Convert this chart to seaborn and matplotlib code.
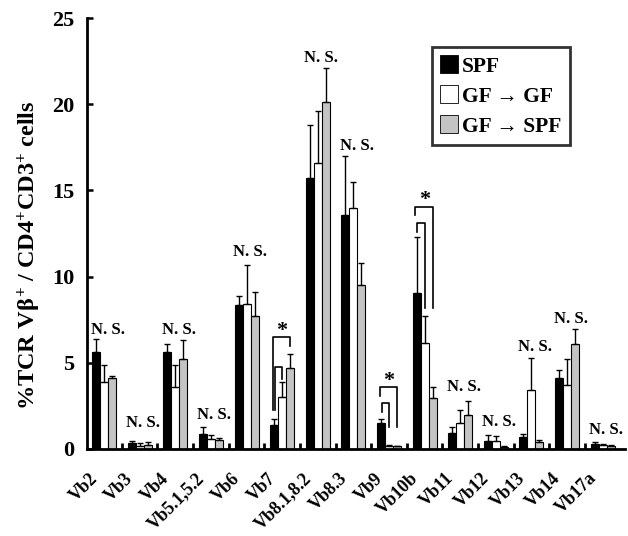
import matplotlib
matplotlib.use("Agg")
import matplotlib.pyplot as plt
import matplotlib.transforms as mtransforms
from matplotlib.patches import Patch
import seaborn as sns
import numpy as np
import pandas as pd

# %% data
categories = ['Vb2', 'Vb3', 'Vb4', 'Vb5.1,5.2', 'Vb6', 'Vb7', 'Vb8.1,8.2', 'Vb8.3',
              'Vb9', 'Vb10b', 'Vb11', 'Vb12', 'Vb13', 'Vb14', 'Vb17a']
groups = ['SPF', 'GF \u2192 GF', 'GF \u2192 SPF']

spf = [5.6, 0.35, 5.65, 0.85, 8.35, 1.4, 15.7, 13.6, 1.5, 9.05, 0.95, 0.45, 0.7, 4.1, 0.3]
spf_err = [0.8, 0.1, 0.45, 0.4, 0.5, 0.35, 3.1, 3.4, 0.25, 3.25, 0.35, 0.35, 0.15, 0.5, 0.1]
gf_gf = [3.9, 0.2, 3.6, 0.6, 8.4, 3.0, 16.6, 14.0, 0.2, 6.15, 1.5, 0.45, 3.45, 3.7, 0.25]
gf_gf_err = [1.0, 0.15, 1.3, 0.2, 2.3, 0.9, 3.0, 1.5, 0.05, 1.55, 0.75, 0.3, 1.85, 1.5, 0.05]
gf_spf = [4.1, 0.25, 5.2, 0.5, 7.7, 4.7, 20.1, 9.5, 0.15, 2.95, 2.0, 0.12, 0.4, 6.1, 0.2]
gf_spf_err = [0.15, 0.15, 1.1, 0.15, 1.4, 0.8, 2.0, 1.3, 0.05, 0.65, 0.8, 0.05, 0.1, 0.85, 0.05]

# "N. S." labels: category and label height
ns_cats = ['Vb2', 'Vb3', 'Vb4', 'Vb5.1,5.2', 'Vb6', 'Vb8.1,8.2', 'Vb8.3',
           'Vb11', 'Vb12', 'Vb13', 'Vb14', 'Vb17a']
ns_y = [6.9, 1.5, 6.9, 2.0, 11.4, 22.7, 17.6, 3.6, 1.55, 5.9, 7.55, 1.1]

# significance brackets: category, outer top, inner top, left leg ends (outer, inner),
# right leg ends (outer, inner), asterisk height
sig_cats = ['Vb7', 'Vb9', 'Vb10b']
sig_outer_top = [6.5, 3.6, 14.05]
sig_inner_top = [4.75, 2.67, 13.1]
sig_left_end = [(2.25, 2.25), (3.1, 2.15), (13.6, 12.6)]
sig_right_end = [(6.0, 4.05), (1.28, 1.28), (8.2, 8.2)]
sig_star_y = [6.85, 3.95, 14.45]

# %% long format table
df = pd.DataFrame({
    'category': np.tile(categories, 3),
    'group': np.repeat(groups, len(categories)),
    'value': spf + gf_gf + gf_spf,
    'err': spf_err + gf_gf_err + gf_spf_err,
})

# %% plotting params
serif = ['Liberation Serif', 'DejaVu Serif']
plt.rcParams['font.family'] = serif
plt.rcParams['font.weight'] = 'bold'
plt.rcParams['mathtext.fontset'] = 'custom'
plt.rcParams['mathtext.rm'] = 'Liberation Serif:bold'
plt.rcParams['mathtext.it'] = 'Liberation Serif:bold'
plt.rcParams['mathtext.bf'] = 'Liberation Serif:bold'

colors = ['black', 'white', '#c4c4c4']

fig = plt.figure(figsize=(6.28, 5.36), dpi=100)
ax = fig.add_axes([87/628, 1-449/536, (625-87)/628, (449-18)/536])

sns.barplot(data=df, x='category', y='value', hue='group', order=categories,
            hue_order=groups, palette=colors, width=0.674, errorbar=None,
            edgecolor='black', linewidth=0.8, saturation=1, ax=ax, legend=False)

# error bars (upper only) from bar positions
for cont, g in zip(ax.containers, groups):
    errs = df.loc[df['group'] == g].set_index('category').loc[categories, 'err'].values
    xs = np.array([p.get_x() + p.get_width()/2 for p in cont.patches])
    hs = np.array([p.get_height() for p in cont.patches])
    ax.errorbar(xs, hs, yerr=[np.zeros_like(errs), errs], fmt='none', ecolor='black',
                elinewidth=1.0, capsize=2.5, capthick=1.0, zorder=5)

bar_w = ax.containers[0].patches[0].get_width()

# N. S. labels
for c, y in zip(ns_cats, ns_y):
    i = categories.index(c)
    ax.text(i + 0.1, y, 'N. S.', ha='center', va='center', fontsize=12, fontweight='bold')

# brackets with asterisk
for k, c in enumerate(sig_cats):
    i = categories.index(c)
    xl, xm, xr = i - bar_w, i, i + bar_w
    lo, li = sig_left_end[k]
    ro, ri = sig_right_end[k]
    ax.plot([xl - 0.03, xl - 0.03, xr, xr], [lo, sig_outer_top[k], sig_outer_top[k], ro],
            color='black', lw=1.2)
    ax.plot([xl + 0.02, xl + 0.02, xm, xm], [li, sig_inner_top[k], sig_inner_top[k], ri],
            color='black', lw=1.2)
    ax.text(i, sig_star_y[k], '*', ha='center', va='center', fontsize=16, fontweight='bold')

# axes
ax.set_xlim(-0.48, 14.63)
ax.set_ylim(0, 25)
ax.set_yticks([0, 5, 10, 15, 20, 25])
ax.set_xticks(range(len(categories)))
ax.set_xticklabels(categories, rotation=45, ha='right', fontsize=13, fontweight='bold')
ax.set_xticks(np.arange(0.5, len(categories) - 0.5, 1), minor=True)
ax.tick_params(axis='x', which='major', length=0, pad=15)
ax.tick_params(axis='x', which='minor', direction='in', length=4, width=2)
ax.tick_params(axis='y', direction='in', length=4, width=1.8, labelsize=16, pad=9)
for lab in ax.get_yticklabels():
    lab.set_fontweight('bold')
offset = mtransforms.ScaledTranslation(-0.03, 0, fig.dpi_scale_trans)
for lab in ax.get_xticklabels():
    lab.set_transform(lab.get_transform() + offset)

ax.set_xlabel('')
ax.set_ylabel(r'%TCR V$\beta^{+}$ / CD4$^{+}$CD3$^{+}$ cells', fontsize=17.5, fontweight='bold')
ax.yaxis.set_label_coords(-0.082, 0.45)
for s in ['top', 'right']:
    ax.spines[s].set_visible(False)
for s in ['left', 'bottom']:
    ax.spines[s].set_linewidth(2)

handles = [Patch(facecolor=c, edgecolor='black', linewidth=0.6) for c in colors]
leg = ax.legend(handles, groups, loc='upper left', bbox_to_anchor=(0.641, 0.933),
                borderaxespad=0, frameon=True, fancybox=False, edgecolor='black',
                prop={'family': serif, 'weight': 'bold', 'size': 15.5},
                handlelength=0.8, handleheight=0.9, handletextpad=0.2, labelspacing=0.4,
                borderpad=0.4)
leg.get_frame().set_linewidth(2)

fig.savefig('out.png', dpi=100)
